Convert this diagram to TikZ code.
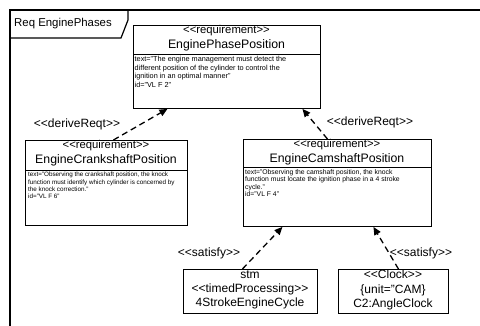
\documentclass[tikz,border=0pt]{standalone}
\usepackage{fontspec}
\setmainfont{Liberation Sans}
\usetikzlibrary{arrows.meta}
% guillemet-style stereotype brackets kept as two separate characters
\newcommand\stL{<\kern0pt<}
\newcommand\stR{>\kern0pt>}
\begin{document}
\begin{tikzpicture}[x=1pt,y=-1pt,
  frameline/.style={line width=1.2pt},
  box/.style={draw, line width=0.9pt, inner sep=0pt, anchor=north west},
  divider/.style={line width=0.8pt},
  stereo/.style={font=\fontsize{11.3}{12}\selectfont, inner sep=0pt},
  bname/.style={font=\fontsize{12.3}{13}\selectfont, inner sep=0pt},
  body/.style={font=\fontsize{6.3}{7.3}\selectfont, align=left, anchor=north west, inner sep=0pt},
  lbl/.style={font=\fontsize{12}{13}\selectfont, inner sep=0pt},
  cell/.style={font=\fontsize{12}{14.3}\selectfont, align=center, inner sep=0pt},
  trace/.style={line width=1.3pt, dash pattern=on 6pt off 4pt,
    -{Triangle[length=8pt,width=7pt]}}
]
\useasboundingbox (0,0) rectangle (480,326);

% diagram frame with its name tab
\draw[frameline] (480,10) -- (10,10) -- (10,326);
\draw[frameline] (10,38) -- (121,38) -- (128,20) -- (128,10);
\node[font=\fontsize{11.4}{12}\selectfont, anchor=west, inner sep=0pt] (title) at (14,24) {Req EnginePhases};

% EnginePhasePosition
\node[box, minimum width=187pt, minimum height=83pt] (top) at (133,25) {};
\draw[divider] (133,54) -- (320,54);
\node[stereo] (topS) at (226.5,31) {\stL requirement\stR};
\node[bname] (topN) at (226.5,45.5) {EnginePhasePosition};
\node[body, font=\fontsize{7.3}{8.6}\selectfont] (topB) at (134.5,56) {text="The engine management must detect the\\different position of the cylinder to control the\\ ignition in an optimal manner"\\id="VL F 2"};

% EngineCrankshaftPosition
\node[box, minimum width=162pt, minimum height=85pt] (crank) at (25,140) {};
\draw[divider] (25,170) -- (187,170);
\node[stereo] (crankS) at (106,146) {\stL requirement\stR};
\node[bname] (crankN) at (106,160) {EngineCrankshaftPosition};
\node[body] (crankB) at (28,172) {text="Observing the crankshaft position, the knock\\function must identify which cylinder is concerned by\\the knock correction."\\id="VL F 6"};

% EngineCamshaftPosition
\node[box, minimum width=188pt, minimum height=87pt] (cam) at (243,139) {};
\draw[divider] (243,167) -- (431,167);
\node[stereo] (camS) at (337,145) {\stL requirement\stR};
\node[bname] (camN) at (337,159) {EngineCamshaftPosition};
\node[body, font=\fontsize{6.8}{7.3}\selectfont] (camB) at (245,169.5) {text="Observing the camshaft position, the knock\\function must locate the ignition phase in a 4 stroke\\cycle."\\id="VL F 4"};

% satisfying elements
\node[box, minimum width=134pt, minimum height=44pt] (stm) at (183,269) {};
\node[cell] (stmT) at (250,290) {stm\\\stL timedProcessing\stR\\4StrokeEngineCycle};
\node[box, minimum width=110pt, minimum height=44pt] (clock) at (338,269) {};
\node[cell] (clockT) at (393,290) {\stL Clock\stR\\\{unit="CAM\}\\C2:AngleClock};

% traceability relations
\draw[trace] ([xshift=7pt]crank.north) -- ([xshift=-59.5pt]top.south);
\draw[trace] ([xshift=-10pt]cam.north) -- ([xshift=75.5pt]top.south);
\draw[trace] ([xshift=-8pt]stm.north) -- ([xshift=-55pt]cam.south);
\draw[trace] ([xshift=5pt]clock.north) -- ([xshift=36pt]cam.south);

\node[lbl] (d1) at (77,124) {\stL deriveReqt\stR};
\node[lbl] (d2) at (370,122) {\stL deriveReqt\stR};
\node[lbl] (s1) at (209,253) {\stL satisfy\stR};
\node[lbl] (s2) at (421,253) {\stL satisfy\stR};
\end{tikzpicture}
\end{document}
